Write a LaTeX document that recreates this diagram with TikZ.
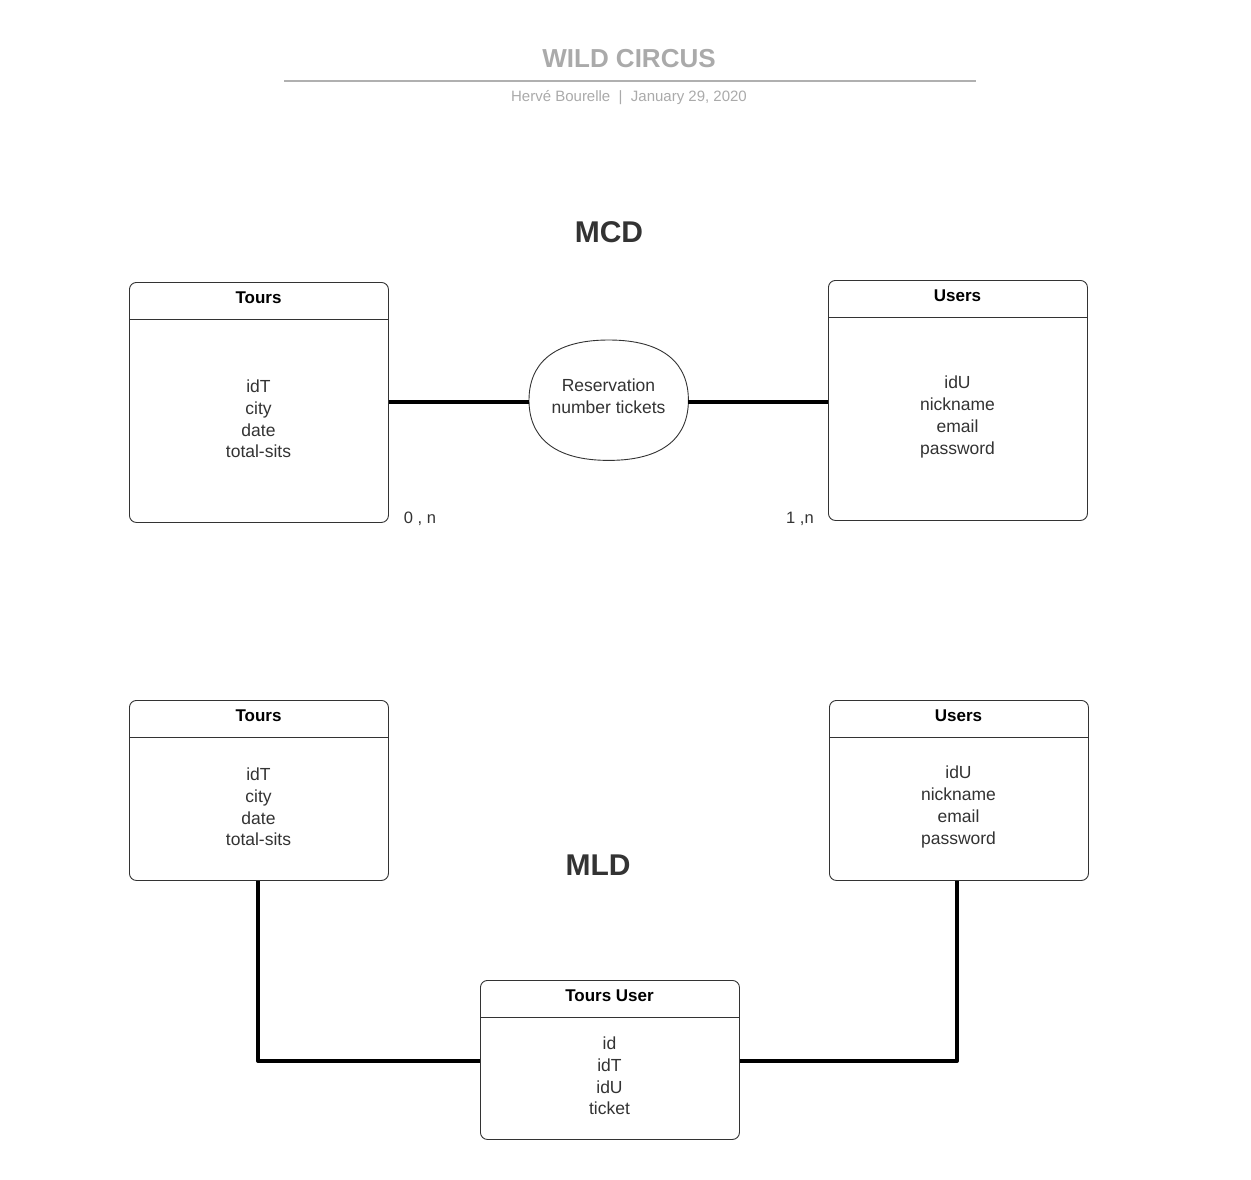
\documentclass[tikz,border=0pt]{standalone}
\usepackage{fontspec}
\setmainfont{Liberation Sans}
\definecolor{txt}{HTML}{333333}
\definecolor{hdr}{HTML}{AAAAAA}
\definecolor{rule}{HTML}{B0B0B0}
\begin{document}
\begin{tikzpicture}[x=1pt,y=-1pt,
  entity/.style={draw=txt, line width=0.9pt, rounded corners=7pt, anchor=north west, minimum width=259pt, inner sep=0pt},
  ttl/.style={font=\fontsize{17}{20}\selectfont\bfseries, text=black},
  body/.style={font=\fontsize{17.5}{21.7}\selectfont, text=txt, align=center},
  conn/.style={line width=4pt, black},
  big/.style={font=\fontsize{30}{34}\selectfont\bfseries, text=txt},
  card/.style={font=\fontsize{16.5}{20}\selectfont, text=txt}]
\useasboundingbox[fill=white] (0,0) rectangle (1251,1180);

% header
\node[font=\fontsize{26}{30}\selectfont\bfseries, text=hdr] (title) at (629,59) {WILD CIRCUS};
\coordinate (rl) at (284,81);
\coordinate (rr) at (976,81);
\draw[rule, line width=1.5pt] (rl) -- (rr);
\node[font=\fontsize{15}{18}\selectfont, text=hdr] (sub) at (629,98) {Hervé Bourelle \ | \ January 29, 2020};

% MCD
\node[big] (mcd) at (609,232) {MCD};

\node[entity, minimum height=240pt] (tours) at (129,282) {};
\draw[txt, line width=0.8pt] ([yshift=-37pt]tours.north west) -- ([yshift=-37pt]tours.north east);
\node[ttl] (toursT) at (258.5,298) {Tours};
\node[body] (toursB) at (258.5,419) {idT\\city\\date\\total-sits};

\node[entity, minimum height=240pt] (users) at (828,280) {};
\draw[txt, line width=0.8pt] ([yshift=-37pt]users.north west) -- ([yshift=-37pt]users.north east);
\node[ttl] (usersT) at (957.5,296) {Users};
\node[body] (usersB) at (957.5,417) {idU\\nickname\\email\\password};

\node[minimum width=159pt, minimum height=120pt, inner sep=0pt, anchor=north west] (res) at (529,340) {};
\draw[txt, line width=0.9pt]
  (res.west) .. controls ([yshift=36pt]res.west) and ([xshift=-56pt]res.north) .. (res.north)
  .. controls ([xshift=56pt]res.north) and ([yshift=36pt]res.east) .. (res.east)
  .. controls ([yshift=-36pt]res.east) and ([xshift=56pt]res.south) .. (res.south)
  .. controls ([xshift=-56pt]res.south) and ([yshift=-36pt]res.west) .. (res.west) -- cycle;
\node[body] (resT) at (608.5,396) {Reservation\\number tickets};

\draw[conn] (tours.east) -- (res.west |- tours.east);
\draw[conn] (res.east |- tours.east) -- (users.west |- tours.east);

\node[card] (c1) at (420,519) {0 , n};
\node[card] (c2) at (800,519) {1 ,n};

% MLD
\node[big] (mld) at (598,865) {MLD};

\node[entity, minimum height=180pt] (mtours) at (129,700) {};
\draw[txt, line width=0.8pt] ([yshift=-37pt]mtours.north west) -- ([yshift=-37pt]mtours.north east);
\node[ttl] (mtoursT) at (258.5,716) {Tours};
\node[body] (mtoursB) at (258.5,807) {idT\\city\\date\\total-sits};

\node[entity, minimum height=180pt] (musers) at (829,700) {};
\draw[txt, line width=0.8pt] ([yshift=-37pt]musers.north west) -- ([yshift=-37pt]musers.north east);
\node[ttl] (musersT) at (958.5,716) {Users};
\node[body] (musersB) at (958.5,807) {idU\\nickname\\email\\password};

\node[entity, minimum height=159pt] (tu) at (480,980) {};
\draw[txt, line width=0.8pt] ([yshift=-37pt]tu.north west) -- ([yshift=-37pt]tu.north east);
\node[ttl] (tuT) at (609.5,996) {Tours User};
\node[body] (tuB) at (609.5,1076) {id\\idT\\idU\\ticket};

\coordinate (k1) at (258,1061);
\coordinate (k2) at (957,1061);
\coordinate (s1) at (258,881);
\coordinate (s2) at (957,881);
\draw[conn, line join=round] (s1) -- (k1) -- (tu.west |- k1);
\draw[conn, line join=round] (s2) -- (k2) -- (tu.east |- k2);
\end{tikzpicture}
\end{document}
